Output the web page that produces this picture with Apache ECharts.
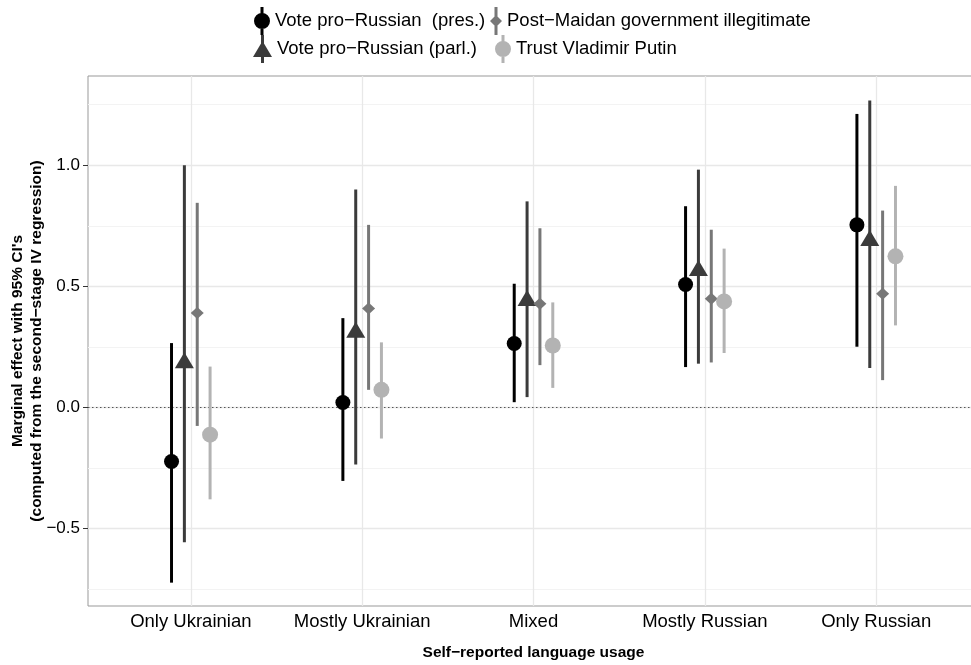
<!DOCTYPE html>
<html><head><meta charset="utf-8">
<script src="https://cdn.jsdelivr.net/npm/echarts@6/dist/echarts.min.js"></script>
<style>html,body{margin:0;padding:0;background:#fff}#c{width:971px;height:665px}</style>
</head><body><div id="c"></div>
<script>
const categories = ['Only Ukrainian', 'Mostly Ukrainian', 'Mixed', 'Mostly Russian', 'Only Russian'];
const groupNames = ['Vote pro−Russian  (pres.)', 'Vote pro−Russian (parl.)', 'Post−Maidan government illegitimate', 'Trust Vladimir Putin'];

const presEst  = [-0.223, 0.021, 0.264, 0.508, 0.754];
const presLow  = [-0.723, -0.303, 0.022, 0.167, 0.251];
const presHigh = [0.266, 0.369, 0.511, 0.831, 1.212];

const parlEst  = [0.195, 0.321, 0.452, 0.576, 0.700];
const parlLow  = [-0.556, -0.235, 0.043, 0.181, 0.163];
const parlHigh = [1.000, 0.900, 0.851, 0.982, 1.267];

const illegEst  = [0.390, 0.409, 0.428, 0.449, 0.470];
const illegLow  = [-0.076, 0.073, 0.175, 0.186, 0.113];
const illegHigh = [0.845, 0.754, 0.740, 0.734, 0.813];

const putinEst  = [-0.112, 0.073, 0.256, 0.438, 0.624];
const putinLow  = [-0.379, -0.128, 0.081, 0.225, 0.339];
const putinHigh = [0.169, 0.269, 0.434, 0.656, 0.915];

const yTickValues = [-0.5, 0, 0.5, 1.0];
const yTickLabels = ['−0.5', '0.0', '0.5', '1.0'];
const yMinorValues = [-0.75, -0.25, 0.25, 0.75, 1.25];
const xTickValues = [1, 2, 3, 4, 5];

const FONT = 'Liberation Sans, Arial, Helvetica, sans-serif';

const groups = [
  {name: groupNames[0], est: presEst, low: presLow, high: presHigh, color: '#000000', symbol: 'circle', size: 15,
   icon: 'path://M0,14 A8,8 0 1,1 16,14 A8,8 0 1,1 0,14 Z M6.5,0 H9.5 V28 H6.5 Z', iw: 16},
  {name: groupNames[1], est: parlEst, low: parlLow, high: parlHigh, color: '#3b3b3b', symbol: 'triangle', size: [19, 16],
   icon: 'path://M0,22 L9.5,6 L19,22 Z M8,0 H11 V28 H8 Z', iw: 19},
  {name: groupNames[2], est: illegEst, low: illegLow, high: illegHigh, color: '#777777', symbol: 'diamond', size: [13, 12],
   icon: 'path://M0,14 L6,8 L12,14 L6,20 Z M4.5,0 H7.5 V28 H4.5 Z', iw: 12},
  {name: groupNames[3], est: putinEst, low: putinLow, high: putinHigh, color: '#b3b3b3', symbol: 'circle', size: 16,
   icon: 'path://M0,14 A8,8 0 1,1 16,14 A8,8 0 1,1 0,14 Z M6.5,0 H9.5 V28 H6.5 Z', iw: 16}
];
const dodgeWidth = 0.3;
function xPos(ci, gi) { return ci + 1 + (gi - 1.5) * dodgeWidth / 4; }

const series = [];
const gridLines = [];
yMinorValues.forEach(v => gridLines.push({yAxis: v, lineStyle: {color: '#f3f3f3', width: 1, type: 'solid'}}));
yTickValues.forEach(v => gridLines.push({yAxis: v, lineStyle: {color: '#e8e8e8', width: 1.3, type: 'solid'}}));
xTickValues.forEach(v => gridLines.push({xAxis: v, lineStyle: {color: '#e8e8e8', width: 1.3, type: 'solid'}}));
gridLines.push({yAxis: 0, lineStyle: {color: '#555555', width: 1.2, type: [1.5, 2.5]}});
series.push({
  type: 'line', data: [], z: 1, silent: true,
  markLine: {z: 1, silent: true, symbol: ['none', 'none'], label: {show: false}, animation: false, data: gridLines}
});

groups.forEach((g, gi) => {
  series.push({
    name: g.name, type: 'scatter', z: 4,
    symbol: g.symbol, symbolSize: g.size,
    itemStyle: {color: g.color, opacity: 1},
    data: g.est.map((v, ci) => [xPos(ci, gi), v])
  });
  series.push({
    name: g.name, type: 'custom', z: 3,
    itemStyle: {color: g.color},
    encode: {x: 0, y: [1, 2]},
    data: g.low.map((v, ci) => [xPos(ci, gi), v, g.high[ci]]),
    renderItem: (params, api) => {
      const p1 = api.coord([api.value(0), api.value(1)]);
      const p2 = api.coord([api.value(0), api.value(2)]);
      return {type: 'line', shape: {x1: p1[0], y1: p1[1], x2: p2[0], y2: p2[1]},
              style: {stroke: g.color, lineWidth: 3, lineCap: 'butt'}};
    }
  });
});

const legendPos = [[254, 7], [253, 35], [490, 7], [495, 35]];
const legends = groups.map((g, gi) => ({
  left: legendPos[gi][0], top: legendPos[gi][1], padding: 0,
  itemWidth: g.iw, itemHeight: 28, selectedMode: false,
  textStyle: {fontFamily: FONT, fontSize: 18.5, color: '#000'},
  data: [{name: g.name, icon: g.icon, itemStyle: {color: g.color}}]
}));

const chart = echarts.init(document.getElementById('c'), null, {renderer: 'canvas'});
chart.setOption({
  animation: false,
  backgroundColor: '#ffffff',
  legend: legends,
  grid: {left: 88, right: -8, top: 76, bottom: 59, containLabel: false, outerBoundsMode: 'none',
         show: true, borderColor: '#999999', borderWidth: 1, backgroundColor: 'transparent'},
  xAxis: {
    type: 'value', min: 0.4, max: 5.6,
    axisLine: {show: false},
    splitLine: {show: false},
    axisTick: {show: true, customValues: xTickValues, length: 5, lineStyle: {color: '#333', width: 1}},
    axisLabel: {customValues: xTickValues, margin: 6, color: '#000', fontFamily: FONT, fontSize: 18.5,
                formatter: v => categories[Math.round(v) - 1]},
    name: 'Self−reported language usage', nameLocation: 'middle', nameGap: 39, nameMoveOverlap: false,
    nameTextStyle: {fontFamily: FONT, fontSize: 15.5, fontWeight: 'bold', color: '#000'}
  },
  yAxis: {
    type: 'value', min: -0.8194, max: 1.3686,
    axisLine: {show: false},
    splitLine: {show: false},
    axisTick: {show: true, customValues: yTickValues, length: 5, lineStyle: {color: '#333', width: 1}},
    axisLabel: {customValues: yTickValues, margin: 8, color: '#000', fontFamily: FONT, fontSize: 17,
                formatter: v => { let best = 0; yTickValues.forEach((t, i) => { if (Math.abs(t - v) < Math.abs(yTickValues[best] - v)) best = i; }); return yTickLabels[best]; }},
    name: "Marginal effect with 95% CI's\n(computed from the second−stage IV regression)",
    nameLocation: 'middle', nameGap: 42, nameRotate: 90, nameMoveOverlap: false,
    nameTextStyle: {fontFamily: FONT, fontSize: 15.5, fontWeight: 'bold', color: '#000', lineHeight: 19, align: 'center'}
  },
  series: series
});
</script>
</body></html>
